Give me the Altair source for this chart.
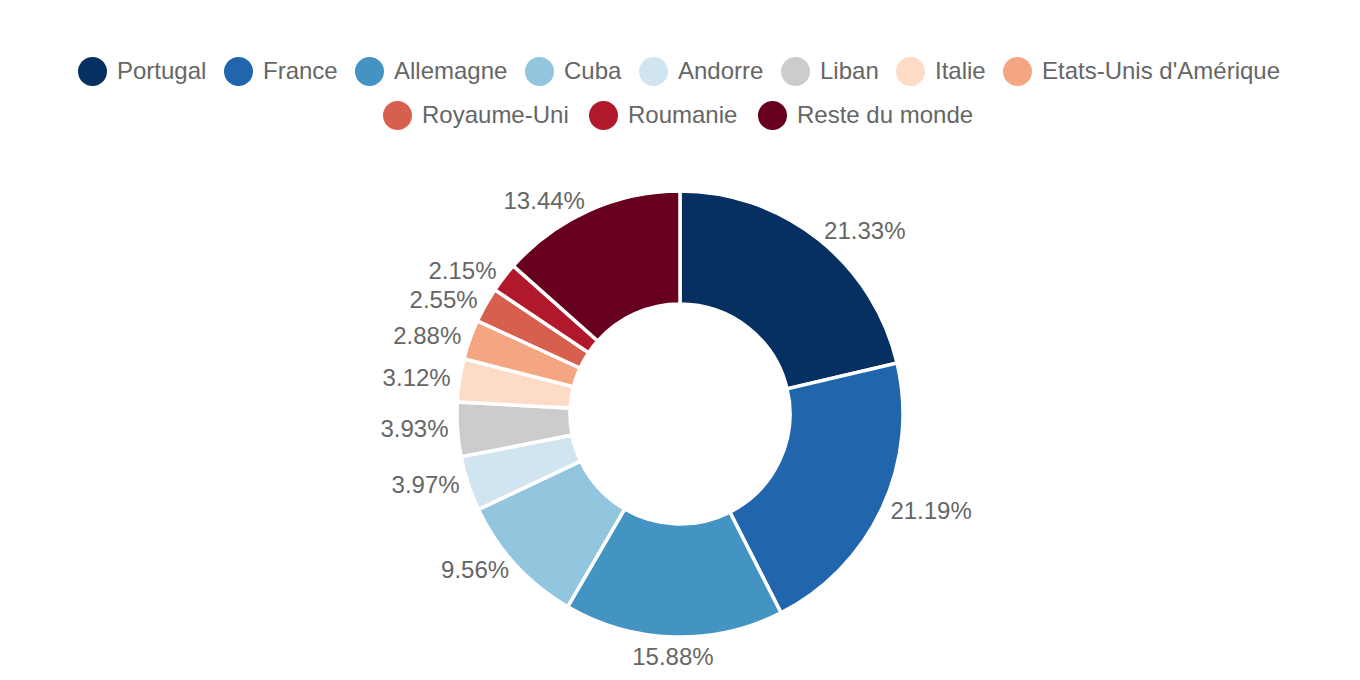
import altair as alt
import pandas as pd

pays = ["Portugal", "France", "Allemagne", "Cuba", "Andorre", "Liban", "Italie",
        "Etats-Unis d'Amérique", "Royaume-Uni", "Roumanie", "Reste du monde"]
parts = [21.33, 21.19, 15.88, 9.56, 3.97, 3.93, 3.12, 2.88, 2.55, 2.15, 13.44]
couleurs = ["#053061", "#2166ac", "#4393c3", "#92c5de", "#d1e5f0", "#cccccc",
            "#fddbc7", "#f4a582", "#d6604d", "#b2182b", "#67001f"]

df = pd.DataFrame({"pays": pays, "part": parts, "ordre": list(range(len(pays)))})

FONT = "Liberation Sans"
CX, CY = 680, 414
theta_scale = alt.Scale(domain=[0, 100])

base = alt.Chart(df).transform_window(
    fin="sum(part)", sort=[alt.SortField("ordre")], frame=[None, 0]
).transform_calculate(
    debut="datum.fin - datum.part",
    milieu="datum.fin - datum.part / 2",
    etiquette="format(datum.part, '.2f') + '%'",
)

arcs = base.mark_arc(outerRadius=223, innerRadius=110, stroke="white", strokeWidth=3.5).encode(
    theta=alt.Theta("debut:Q", scale=theta_scale, stack=False),
    theta2="fin:Q",
    x=alt.value(CX), y=alt.value(CY),
    color=alt.Color("pays:N", scale=alt.Scale(domain=pays, range=couleurs), legend=None),
)

def legend_layer(names, cols, lx, ly, colpad):
    return base.transform_filter(
        alt.FieldOneOfPredicate(field="pays", oneOf=names)
    ).mark_arc(radius=0, innerRadius=0).encode(
        theta=alt.Theta("debut:Q", scale=theta_scale, stack=False),
        theta2="fin:Q",
        x=alt.value(CX), y=alt.value(CY),
        color=alt.Color(
            "pays:N",
            scale=alt.Scale(domain=names, range=cols),
            legend=alt.Legend(
                orient="none", legendX=lx, legendY=ly, direction="horizontal",
                columns=len(names), title=None, symbolType="circle", symbolSize=841,
                symbolStrokeWidth=0, labelFontSize=24, labelColor="#666666",
                labelFont=FONT, labelOffset=10, columnPadding=colpad, padding=0,
                labelLimit=400,
            ),
        ),
    )

leg1 = legend_layer(pays[:8], couleurs[:8], 78, 57, 17)
leg2 = legend_layer(pays[8:], couleurs[8:], 383, 101, 20)

def text_layer(pred, align, r):
    return base.transform_filter(pred).mark_text(
        align=align, baseline="middle", font=FONT, fontSize=24, color="#666666"
    ).encode(
        theta=alt.Theta("milieu:Q", scale=theta_scale, stack=False),
        radius=alt.value(r),
        x=alt.value(CX), y=alt.value(CY),
        text="etiquette:N",
    )

droite = text_layer("datum.milieu > 2 && datum.milieu < 45", "left", 232)
centre = text_layer("datum.milieu >= 45 && datum.milieu <= 55", "center", 244)
gauche = text_layer("datum.milieu > 55 || datum.milieu <= 2", "right", 232)

chart = alt.layer(arcs, leg1, leg2, droite, centre, gauche).resolve_scale(
    color="independent"
).properties(
    width=1360, height=680, autosize=alt.AutoSizeParams(type="none"), padding=0
).configure_view(stroke=None)

chart.save("out.html", embed_options={"renderer": "svg", "actions": False})
